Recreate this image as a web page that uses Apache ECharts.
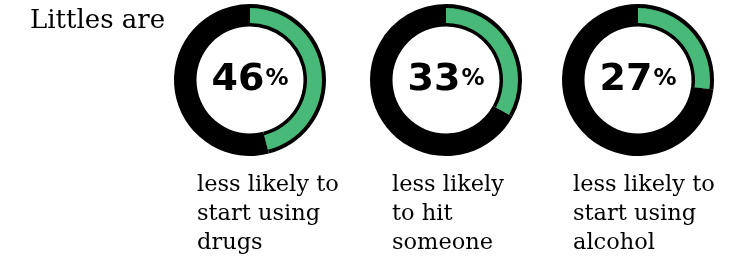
<!DOCTYPE html>
<html>
<head>
<meta charset="utf-8">
<script src="https://cdn.jsdelivr.net/npm/echarts@6/dist/echarts.min.js"></script>
<style>
  html, body { margin: 0; padding: 0; background: #fff; }
  #main { width: 741px; height: 263px; }
</style>
</head>
<body>
<div id="main"></div>
<script>
// percent values per ring
var percents = [46, 33, 27];
var captions = [
  'less likely to\nstart using\ndrugs',
  'less likely\nto hit\nsomeone',
  'less likely to\nstart using\nalcohol'
];
var heading = 'Littles are';

var centers = [[250, 80], [446, 80], [638, 80]];
var captionLeft = [197, 392, 573];

var chart = echarts.init(document.getElementById('main'));

var series = [];
percents.forEach(function (p, i) {
  // black ring behind
  series.push({
    type: 'pie',
    center: centers[i],
    radius: [53.5, 76],
    startAngle: 90,
    silent: true,
    animation: false,
    label: { show: false },
    labelLine: { show: false },
    itemStyle: { color: '#000' },
    data: [p, 100 - p]
  });
  // green share, inset in the ring
  series.push({
    type: 'pie',
    center: centers[i],
    radius: [57, 72],
    startAngle: 90,
    clockwise: true,
    silent: true,
    animation: false,
    labelLine: { show: false },
    data: [
      {
        value: p,
        itemStyle: { color: '#48b978' },
        label: {
          show: true,
          position: 'center',
          formatter: '{n|' + p + '}{p|%}',
          rich: {
            n: { fontFamily: 'DejaVu Sans', fontWeight: 'bold', fontSize: 38, color: '#000' },
            p: { fontFamily: 'DejaVu Sans', fontWeight: 'bold', fontSize: 23, color: '#000', padding: [0, 0, 2, 1] }
          }
        }
      },
      {
        value: 100 - p,
        itemStyle: { color: 'rgba(0,0,0,0)' },
        label: { show: false }
      }
    ]
  });
});

var titles = [{
  text: heading,
  left: 30,
  top: 8,
  padding: 0,
  textStyle: { fontFamily: 'DejaVu Serif', fontWeight: 'normal', fontSize: 26, color: '#000' }
}];
captions.forEach(function (c, i) {
  titles.push({
    text: c,
    left: captionLeft[i],
    top: 171,
    padding: 0,
    textStyle: { fontFamily: 'DejaVu Serif', fontWeight: 'normal', fontSize: 22.5, lineHeight: 29, color: '#000' }
  });
});

chart.setOption({
  backgroundColor: '#fff',
  title: titles,
  series: series
});
</script>
</body>
</html>
